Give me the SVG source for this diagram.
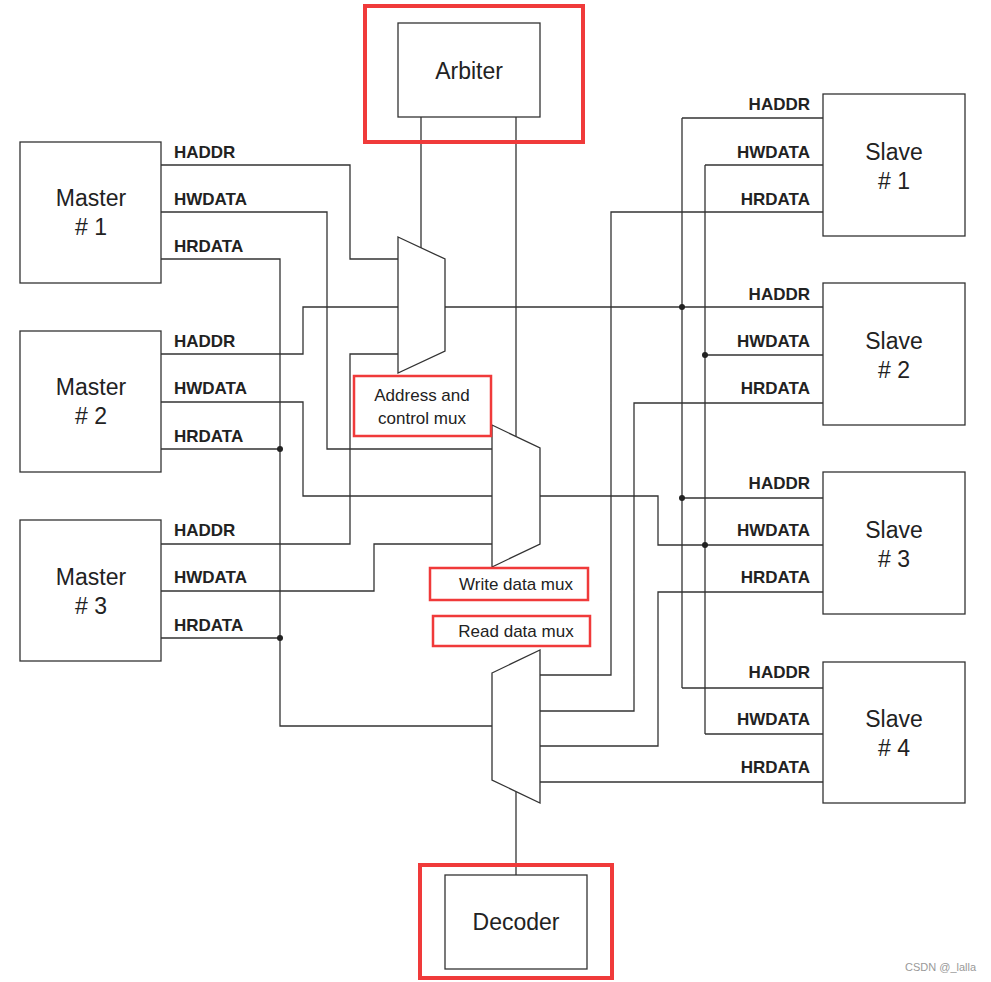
<svg xmlns="http://www.w3.org/2000/svg" width="991" height="982" viewBox="0 0 991 982">
<style>
.box{fill:#fff;stroke:#333;stroke-width:1.3}
.red{fill:none;stroke:#f03a3a;stroke-width:4}
.redt{fill:#fff;stroke:#f03a3a;stroke-width:2.5}
.w{fill:none;stroke:#333;stroke-width:1.3}
.dot{fill:#222}
.big{font-family:"Liberation Sans",Arial,sans-serif;font-size:23px;fill:#222;text-anchor:middle}
.bus{font-family:"Liberation Sans",Arial,sans-serif;font-size:17px;font-weight:bold;fill:#222}
.sl{text-anchor:end}
.lab{font-family:"Liberation Sans",Arial,sans-serif;font-size:17px;fill:#222;text-anchor:middle}
</style>
<g id="connectors">
<!-- arbiter lines -->
<path class="w" d="M421 117V251M516 117V436"/>
<!-- masters to addr mux -->
<path class="w" d="M161 165H350V259H398"/>
<path class="w" d="M161 354H303V307H398"/>
<path class="w" d="M161 544H350V354H398"/>
<!-- masters to write mux -->
<path class="w" d="M161 212H327V449H492"/>
<path class="w" d="M161 402H303V496H492"/>
<path class="w" d="M161 591H374V544H492"/>
<!-- HRDATA to masters -->
<path class="w" d="M161 259H280V726H492M161 449H280M161 638H280"/>
<!-- addr mux output -->
<path class="w" d="M445 307H823M682 118V688M682 118H823M682 498H823M682 688H823"/>
<!-- write mux output -->
<path class="w" d="M540 496H658V545H823M705 165V734M705 165H823M705 355H823M705 734H823"/>
<!-- read mux inputs -->
<path class="w" d="M540 675H611V212H823M540 711H634V403H823M540 746H658V592H823M540 782H823"/>
<!-- decoder -->
<path class="w" d="M516 792V875"/>
<circle class="dot" cx="280" cy="449" r="3"/><circle class="dot" cx="280" cy="638" r="3"/>
<circle class="dot" cx="682" cy="307" r="3"/><circle class="dot" cx="682" cy="498" r="3"/>
<circle class="dot" cx="705" cy="355" r="3"/><circle class="dot" cx="705" cy="545" r="3"/>
</g>
<g id="addr-mux"><path class="box" d="M398 237L445 259V351L398 373Z"/></g>
<g id="write-mux"><path class="box" d="M492 425L540 448V544L492 567Z"/></g>
<g id="read-mux"><path class="box" d="M492 673L540 650V803L492 780Z"/></g>
<g id="arbiter"><rect class="box" x="398" y="23" width="142" height="94"/><rect class="red" x="365" y="6" width="218" height="136"/><text class="big" x="469" y="79">Arbiter</text></g>
<g id="decoder"><rect class="box" x="445" y="875" width="142" height="94"/><rect class="red" x="420" y="865" width="192" height="113"/><text class="big" x="516" y="930">Decoder</text></g>
<g id="master1"><rect class="box" x="20" y="142" width="141" height="141"/><text class="big" x="91" y="206">Master</text><text class="big" x="91" y="235"># 1</text>
<text class="bus" x="174" y="158">HADDR</text><text class="bus" x="174" y="205">HWDATA</text><text class="bus" x="174" y="252">HRDATA</text></g>
<g id="master2"><rect class="box" x="20" y="331" width="141" height="141"/><text class="big" x="91" y="395">Master</text><text class="big" x="91" y="424"># 2</text>
<text class="bus" x="174" y="347">HADDR</text><text class="bus" x="174" y="394">HWDATA</text><text class="bus" x="174" y="442">HRDATA</text></g>
<g id="master3"><rect class="box" x="20" y="520" width="141" height="141"/><text class="big" x="91" y="585">Master</text><text class="big" x="91" y="614"># 3</text>
<text class="bus" x="174" y="536">HADDR</text><text class="bus" x="174" y="583">HWDATA</text><text class="bus" x="174" y="631">HRDATA</text></g>
<g id="slave1"><rect class="box" x="823" y="94" width="142" height="142"/><text class="big" x="894" y="160">Slave</text><text class="big" x="894" y="189"># 1</text>
<text class="bus sl" x="810" y="110">HADDR</text><text class="bus sl" x="810" y="158">HWDATA</text><text class="bus sl" x="810" y="205">HRDATA</text></g>
<g id="slave2"><rect class="box" x="823" y="283" width="142" height="142"/><text class="big" x="894" y="349">Slave</text><text class="big" x="894" y="378"># 2</text>
<text class="bus sl" x="810" y="300">HADDR</text><text class="bus sl" x="810" y="347">HWDATA</text><text class="bus sl" x="810" y="394">HRDATA</text></g>
<g id="slave3"><rect class="box" x="823" y="472" width="142" height="142"/><text class="big" x="894" y="538">Slave</text><text class="big" x="894" y="567"># 3</text>
<text class="bus sl" x="810" y="489">HADDR</text><text class="bus sl" x="810" y="536">HWDATA</text><text class="bus sl" x="810" y="583">HRDATA</text></g>
<g id="slave4"><rect class="box" x="823" y="662" width="142" height="141"/><text class="big" x="894" y="727">Slave</text><text class="big" x="894" y="756"># 4</text>
<text class="bus sl" x="810" y="678">HADDR</text><text class="bus sl" x="810" y="725">HWDATA</text><text class="bus sl" x="810" y="773">HRDATA</text></g>
<g id="label-addr"><rect class="redt" x="354" y="376" width="137" height="60"/><text class="lab" x="422" y="401">Address and</text><text class="lab" x="422" y="424">control mux</text></g>
<g id="label-write"><rect class="redt" x="430" y="568" width="158" height="32"/><text class="lab" x="516" y="590">Write data mux</text></g>
<g id="label-read"><rect class="redt" x="433" y="616" width="157" height="30"/><text class="lab" x="516" y="637">Read data mux</text></g>
<text x="905" y="971" style="font-family:'Liberation Sans',sans-serif;font-size:11px;fill:#999">CSDN @_lalla</text>
</svg>
